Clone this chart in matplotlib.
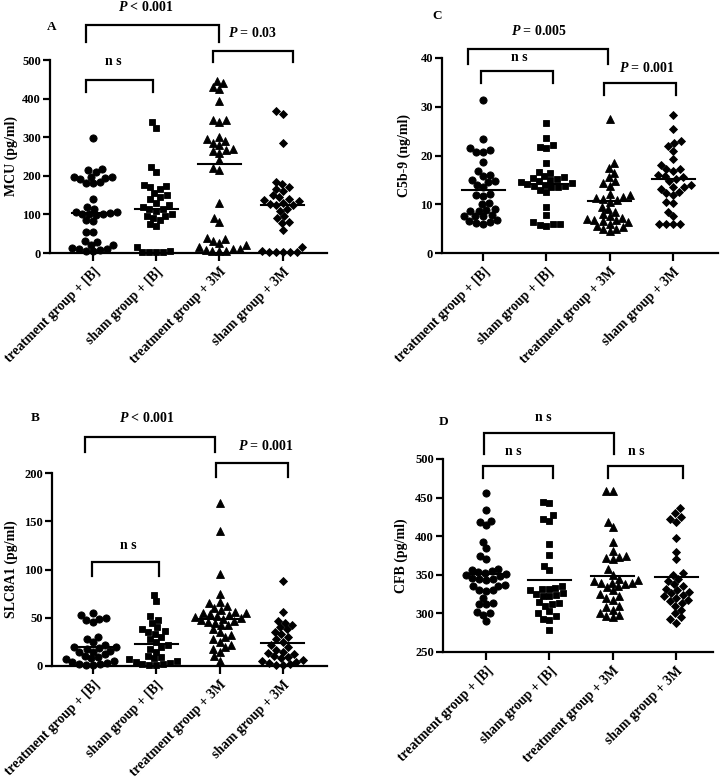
import numpy as np
import matplotlib
matplotlib.use("Agg")
import matplotlib.pyplot as plt
import matplotlib.transforms as mtransforms

plt.rcParams['font.family'] = ['Liberation Serif', 'DejaVu Serif']
plt.rcParams['font.weight'] = 'bold'
plt.rcParams['mathtext.fontset'] = 'custom'
plt.rcParams['mathtext.it'] = 'Liberation Serif:italic:bold'
plt.rcParams['mathtext.rm'] = 'Liberation Serif:bold'

groups = ["treatment group + [B]", "sham group + [B]",
          "treatment group + 3M", "sham group + 3M"]
markers = ['o', 's', '^', 'D']
msizes = [5.2, 4.8, 5.8, 4.4]

# ---- Panel A: MCU (pg/ml)
mcu_trt_b = [297, 218, 215, 210, 198, 197, 196, 195, 193, 183, 182, 181, 140, 120,
             115, 105, 105, 103, 102, 101, 100, 98, 85, 82, 55, 55, 32, 28, 22, 20,
             12, 10, 10, 8, 5, 5]
mcu_sham_b = [340, 325, 222, 210, 175, 173, 170, 165, 155, 150, 145, 140, 130, 125,
              120, 115, 113, 110, 100, 97, 95, 90, 85, 75, 70, 15, 5, 3, 2, 2, 2]
mcu_trt_3m = [445, 440, 430, 425, 395, 345, 345, 340, 300, 295, 290, 285, 280, 270,
              268, 265, 260, 240, 220, 215, 130, 90, 80, 40, 35, 30, 25, 20, 15, 10,
              10, 8, 5, 5, 5]
mcu_sham_3m = [368, 360, 285, 185, 178, 170, 165, 160, 150, 145, 140, 138, 135, 130,
               128, 125, 125, 115, 110, 95, 90, 80, 78, 60, 15, 5, 3, 3, 2, 2, 2]
mcu_lines = [103, 115, 230, 125]

# ---- Panel C: C5b-9 (ng/ml)
c5b9_trt_b = [31.3, 23.3, 21.5, 21.2, 20.8, 20.7, 18.6, 16.8, 16.0, 15.8, 15.0, 14.7,
              14.6, 14.0, 13.5, 12.2, 12.0, 11.7, 10.3, 10.0, 9.0, 8.8, 8.7, 8.6, 7.7,
              7.6, 7.5, 7.5, 6.7, 6.5, 6.3, 6.2, 6.0]
c5b9_sham_b = [26.7, 23.6, 22.2, 21.8, 21.5, 18.4, 16.7, 16.5, 15.8, 15.5, 15.3, 15.2,
               15.0, 14.8, 14.6, 14.4, 14.2, 14.0, 13.8, 13.7, 13.6, 13.5, 12.9, 12.5,
               9.5, 7.7, 6.3, 6.0, 5.9, 5.7, 5.5]
c5b9_trt_3m = [27.5, 18.5, 17.5, 16.5, 15.5, 14.7, 14.3, 13.8, 12.2, 11.8, 11.5, 11.3,
               11.0, 10.8, 10.5, 9.5, 9.0, 8.5, 8.0, 7.5, 7.2, 7.0, 6.8, 6.7, 6.5, 6.3,
               6.0, 5.5, 5.3, 5.0, 4.9, 4.5]
c5b9_sham_3m = [28.4, 25.4, 23.0, 22.6, 22.0, 21.0, 19.2, 18.0, 17.3, 17.2, 16.8, 16.0,
                15.8, 15.5, 15.2, 14.7, 14.0, 13.5, 13.5, 13.2, 12.5, 12.3, 11.8, 10.5,
                10.2, 8.5, 7.5, 6.0, 6.0, 6.0, 6.0]
c5b9_lines = [12.9, 14.2, 10.6, 15.1]

# ---- Panel B: SLC8A1 (pg/ml)
slc_trt_b = [55, 53, 50, 49, 48, 46, 30, 28, 25, 22, 20, 20, 19, 18, 16, 15, 15, 12,
             10, 9, 8, 7, 5, 4, 3, 2, 2, 1, 1]
slc_sham_b = [74, 67, 52, 48, 45, 40, 38, 36, 35, 33, 30, 28, 25, 22, 20, 18, 15, 10,
              9, 8, 7, 5, 4, 3, 2, 2, 1, 1]
slc_trt_3m = [169, 140, 95, 75, 66, 65, 62, 60, 58, 56, 55, 55, 54, 53, 52, 51, 50, 49,
              48, 47, 46, 45, 43, 42, 38, 35, 32, 30, 28, 25, 22, 20, 18, 15, 10, 5]
slc_sham_3m = [88, 56, 47, 45, 42, 40, 38, 35, 33, 30, 28, 25, 22, 20, 17, 15, 13, 12,
               10, 9, 8, 6, 5, 4, 3, 2, 1, 1]
slc_lines = [20, 23, 49, 24]

# ---- Panel D: CFB (pg/ml)
cfb_trt_b = [456, 434, 420, 418, 414, 393, 385, 375, 370, 358, 356, 355, 353, 352, 351,
             350, 348, 346, 345, 344, 343, 337, 336, 335, 330, 330, 329, 320, 313, 312,
             312, 302, 300, 298, 290]
cfb_sham_b = [444, 443, 428, 422, 420, 390, 376, 361, 356, 335, 333, 332, 331, 330, 326,
              325, 324, 323, 322, 315, 313, 312, 310, 303, 300, 296, 293, 292, 278]
cfb_trt_3m = [458, 458, 418, 412, 392, 381, 375, 373, 372, 370, 357, 350, 345, 343, 342,
              340, 340, 339, 338, 336, 334, 330, 325, 322, 320, 318, 310, 308, 305, 300,
              298, 296, 295]
cfb_sham_3m = [436, 430, 425, 422, 418, 398, 380, 370, 352, 350, 345, 342, 338, 335, 332,
               330, 328, 326, 324, 322, 320, 318, 316, 314, 310, 305, 300, 295, 293, 288]
cfb_lines = [351, 343, 348, 347]

W, H = 721, 778
fig = plt.figure(figsize=(W / 100, H / 100), dpi=100)


def px_axes(left, right, top, bottom):
    return fig.add_axes([left / W, 1 - bottom / H, (right - left) / W, (bottom - top) / H])


def swarm(vals, sx, sy, diam=7.0):
    # simple beeswarm in pixel space, returns x offsets in data units
    ys = np.asarray(vals, float) * sy
    xs = np.zeros(len(ys))
    placed = []
    for i in np.argsort(ys):
        y = ys[i]
        near = [(px, py) for px, py in placed if abs(py - y) < diam]
        cands = [0.0]
        for px, py in near:
            d = np.sqrt(diam ** 2 - (py - y) ** 2)
            cands += [px + d, px - d]
        cands.sort(key=lambda c: (abs(c), c))
        for c in cands:
            if all((c - px) ** 2 + (y - py) ** 2 >= diam ** 2 - 1e-6 for px, py in near):
                xs[i] = c
                break
        placed.append((xs[i], y))
    return xs / sx


def bracket(ax, x1, x2, top, leg, text, tpos):
    ax.plot([x1, x1, x2, x2], [leg, top, top, leg], color='black', lw=1.6,
            clip_on=False, solid_joinstyle='miter')
    ax.text(tpos[0], tpos[1], text, ha='center', va='center', fontsize=10,
            fontweight='bold')


def panel(ax, data, lines, ylim, yticks, ylabel, xlim, labx):
    ax.set_xlim(*xlim)
    ax.set_ylim(*ylim)
    bb = ax.get_window_extent()
    sx = bb.width / (xlim[1] - xlim[0])
    sy = bb.height / (ylim[1] - ylim[0])
    for i, vals in enumerate(data):
        off = swarm(vals, sx, sy)
        ax.plot(i + off, vals, ls='none', marker=markers[i], ms=msizes[i],
                color='black', mec='black', mew=0.6, clip_on=False, zorder=3)
        ax.plot([i - 0.34, i + 0.34], [lines[i], lines[i]], color='black', lw=1.5,
                zorder=4, clip_on=False)
    for s in ['top', 'right']:
        ax.spines[s].set_visible(False)
    for s in ['left', 'bottom']:
        ax.spines[s].set_linewidth(1.6)
    ax.set_yticks(yticks)
    ax.set_xticks(range(4))
    ax.set_xticklabels(groups, rotation=45, ha='right', va='top',
                       rotation_mode='anchor', fontsize=9.8, fontweight='bold')
    shift = mtransforms.ScaledTranslation(4 / 100, 0, fig.dpi_scale_trans)
    for t in ax.get_xticklabels():
        t.set_transform(t.get_transform() + shift)
    ax.tick_params(axis='both', direction='out', width=1.6)
    ax.tick_params(axis='y', length=5, pad=1.5, labelsize=9)
    ax.tick_params(axis='x', length=6, pad=3)
    for t in ax.get_yticklabels():
        t.set_fontweight('bold')
    ax.set_ylabel(ylabel, fontsize=10, fontweight='bold')
    ax.yaxis.set_label_coords(labx, 0.5)


# A
axA = px_axes(50, 327, 60, 253)
panel(axA, [mcu_trt_b, mcu_sham_b, mcu_trt_3m, mcu_sham_3m], mcu_lines,
      (0, 500), range(0, 501, 100), "MCU (pg/ml)", (-0.68, 3.70), -0.115)
bracket(axA, -0.11, 2.0, 591, 547, r"$P$ < 0.001", (0.84, 637))
bracket(axA, 1.9, 3.16, 523, 495, r"$P$ = 0.03", (2.53, 570))
bracket(axA, -0.11, 0.95, 448, 417, "n s", (0.32, 495))

# C
axC = px_axes(442, 718, 58, 253)
panel(axC, [c5b9_trt_b, c5b9_sham_b, c5b9_trt_3m, c5b9_sham_3m], c5b9_lines,
      (0, 40), range(0, 41, 10), "C5b-9 (ng/ml)", (-0.65, 3.71), -0.112)
bracket(axC, -0.24, 1.97, 41.8, 38.8, r"$P$ = 0.005", (0.88, 45.5))
bracket(axC, -0.03, 1.1, 37.3, 34.9, "n s", (0.57, 40.2))
bracket(axC, 1.91, 3.05, 34.9, 32.4, r"$P$ = 0.001", (2.59, 37.9))

# B
axB = px_axes(52, 327, 473, 666)
panel(axB, [slc_trt_b, slc_sham_b, slc_trt_3m, slc_sham_3m], slc_lines,
      (0, 200), range(0, 201, 50), "SLC8A1 (pg/ml)", (-0.65, 3.70), -0.125)
bracket(axB, -0.13, 1.93, 237, 222, r"$P$ < 0.001", (0.85, 257))
bracket(axB, 1.94, 3.08, 210, 196, r"$P$ = 0.001", (2.73, 228))
bracket(axB, -0.02, 1.04, 108, 93, "n s", (0.55, 125))

# D
axD = px_axes(443, 713, 459, 652)
panel(axD, [cfb_trt_b, cfb_sham_b, cfb_trt_3m, cfb_sham_3m], cfb_lines,
      (250, 500), range(250, 501, 50), "CFB (pg/ml)", (-0.68, 3.58), -0.13)
bracket(axD, -0.03, 2.02, 533.6, 506, "n s", (0.9, 554))
bracket(axD, -0.05, 1.06, 491, 475, "n s", (0.43, 510))
bracket(axD, 1.93, 3.11, 491, 475, "n s", (2.37, 510))

for lab, x, y in [("A", 52, 27), ("C", 437, 16), ("B", 35, 418), ("D", 444, 422)]:
    fig.text(x / W, 1 - y / H, lab, ha='center', va='center', fontsize=9.5,
             fontweight='bold')

fig.savefig("out.png", dpi=100)
